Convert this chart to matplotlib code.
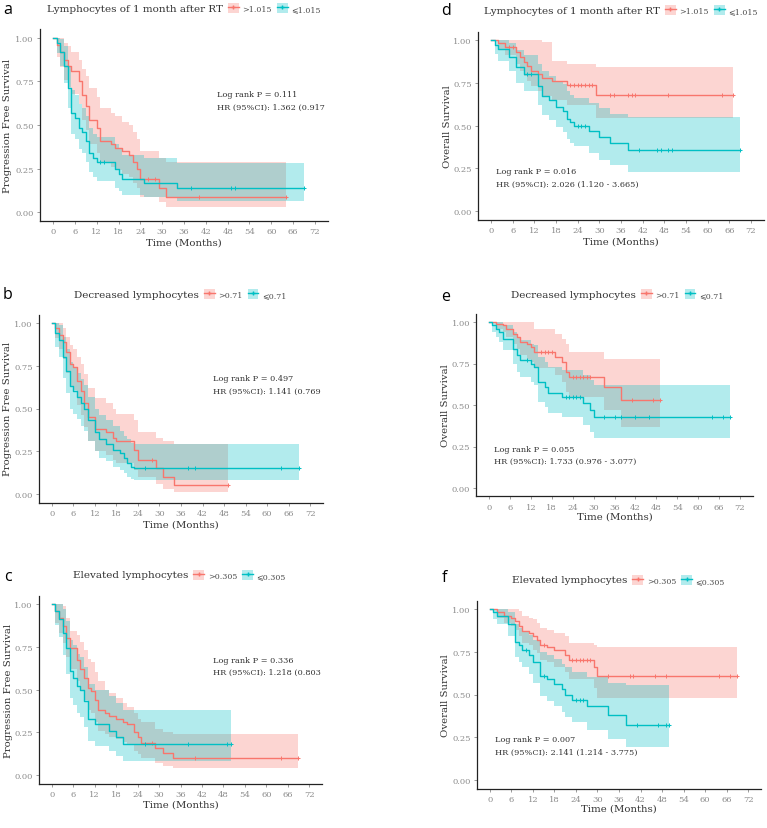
import matplotlib
matplotlib.use("Agg")
import matplotlib.pyplot as plt
from matplotlib.lines import Line2D
from matplotlib.patches import Patch
import numpy as np

# ---- Kaplan-Meier estimates (months, survival, 95% CI) ----
# a: PFS, lymphocytes 1 month after RT
a_hi_t = [0, 1, 2, 3, 4, 5, 7, 8, 9, 10, 12, 13, 16, 17, 19, 21, 22, 23, 24, 29, 31]
a_hi_s = [1.0, 0.96, 0.92, 0.87, 0.84, 0.81, 0.75, 0.67, 0.61, 0.53, 0.48, 0.41, 0.39, 0.37, 0.35, 0.33, 0.29, 0.25, 0.19, 0.14, 0.09]
a_hi_up = [1.0, 1.0, 1.0, 0.97, 0.95, 0.92, 0.87, 0.82, 0.78, 0.71, 0.66, 0.60, 0.57, 0.55, 0.52, 0.50, 0.46, 0.42, 0.35, 0.31, 0.29]
a_hi_lo = [1.0, 0.89, 0.83, 0.76, 0.72, 0.68, 0.62, 0.53, 0.47, 0.39, 0.34, 0.28, 0.26, 0.24, 0.22, 0.20, 0.17, 0.14, 0.09, 0.06, 0.03]
a_hi_c = [26, 28, 40, 64]
a_lo_t = [0, 1, 2, 3, 4, 5, 6, 7, 8, 9, 10, 11, 12, 17, 18, 19, 25, 34]
a_lo_s = [1.0, 0.97, 0.92, 0.84, 0.71, 0.57, 0.54, 0.48, 0.46, 0.41, 0.34, 0.31, 0.29, 0.25, 0.22, 0.19, 0.165, 0.14]
a_lo_up = [1.0, 1.0, 0.99, 0.95, 0.84, 0.70, 0.67, 0.62, 0.60, 0.55, 0.48, 0.45, 0.43, 0.39, 0.36, 0.33, 0.31, 0.285]
a_lo_lo = [1.0, 0.91, 0.84, 0.74, 0.60, 0.45, 0.42, 0.36, 0.34, 0.29, 0.23, 0.20, 0.18, 0.14, 0.12, 0.10, 0.085, 0.065]
a_lo_c = [13, 14, 38, 49, 50, 69]

# b: PFS, decreased lymphocytes
b_hi_t = [0, 1, 2, 3, 4, 5, 6, 7, 8, 9, 10, 12, 15, 17, 18, 23, 24, 29, 31, 34]
b_hi_s = [1.0, 0.97, 0.93, 0.89, 0.83, 0.76, 0.74, 0.66, 0.60, 0.53, 0.45, 0.38, 0.36, 0.33, 0.31, 0.26, 0.20, 0.15, 0.10, 0.05]
b_hi_up = [1.0, 1.0, 1.0, 0.97, 0.92, 0.87, 0.85, 0.80, 0.76, 0.70, 0.62, 0.56, 0.53, 0.50, 0.47, 0.43, 0.36, 0.33, 0.31, 0.29]
b_hi_lo = [1.0, 0.91, 0.85, 0.79, 0.71, 0.63, 0.61, 0.52, 0.46, 0.39, 0.31, 0.25, 0.23, 0.20, 0.18, 0.14, 0.10, 0.06, 0.03, 0.01]
b_hi_c = [28, 49]
b_lo_t = [0, 1, 2, 3, 4, 5, 6, 7, 8, 9, 10, 12, 13, 15, 17, 19, 20, 21, 22, 23]
b_lo_s = [1.0, 0.94, 0.90, 0.80, 0.72, 0.63, 0.60, 0.57, 0.53, 0.50, 0.43, 0.36, 0.32, 0.29, 0.26, 0.24, 0.21, 0.18, 0.16, 0.15]
b_lo_up = [1.0, 1.0, 0.99, 0.92, 0.85, 0.77, 0.74, 0.71, 0.67, 0.64, 0.57, 0.50, 0.46, 0.43, 0.40, 0.37, 0.34, 0.32, 0.30, 0.29]
b_lo_lo = [1.0, 0.86, 0.80, 0.68, 0.59, 0.50, 0.47, 0.44, 0.40, 0.37, 0.31, 0.25, 0.21, 0.19, 0.16, 0.14, 0.12, 0.10, 0.09, 0.08]
b_lo_c = [26, 38, 40, 64, 69]

# c: PFS, elevated lymphocytes
c_hi_t = [0, 1, 2, 3, 4, 5, 7, 8, 9, 10, 11, 12, 13, 15, 16, 18, 20, 21, 23, 24, 25, 29, 31, 34]
c_hi_s = [1.0, 0.96, 0.92, 0.87, 0.80, 0.74, 0.67, 0.62, 0.57, 0.51, 0.49, 0.44, 0.38, 0.365, 0.345, 0.33, 0.31, 0.30, 0.25, 0.22, 0.185, 0.155, 0.13, 0.10]
c_hi_up = [1.0, 1.0, 1.0, 0.99, 0.92, 0.84, 0.82, 0.78, 0.73, 0.68, 0.66, 0.60, 0.55, 0.50, 0.48, 0.45, 0.42, 0.40, 0.36, 0.33, 0.31, 0.27, 0.25, 0.24]
c_hi_lo = [1.0, 0.89, 0.83, 0.77, 0.69, 0.62, 0.55, 0.49, 0.44, 0.38, 0.36, 0.31, 0.26, 0.24, 0.22, 0.21, 0.19, 0.18, 0.14, 0.12, 0.10, 0.07, 0.055, 0.04]
c_hi_c = [28, 40, 64, 69]
c_lo_t = [0, 1, 2, 3, 4, 5, 6, 7, 8, 9, 10, 12, 16, 18, 20]
c_lo_s = [1.0, 0.96, 0.91, 0.83, 0.74, 0.61, 0.57, 0.52, 0.50, 0.43, 0.33, 0.30, 0.26, 0.22, 0.18]
c_lo_up = [1.0, 1.0, 1.0, 0.97, 0.90, 0.79, 0.76, 0.71, 0.69, 0.63, 0.53, 0.50, 0.46, 0.42, 0.38]
c_lo_lo = [1.0, 0.88, 0.81, 0.70, 0.59, 0.45, 0.41, 0.36, 0.34, 0.28, 0.20, 0.17, 0.14, 0.11, 0.08]
c_lo_c = [26, 38, 49, 50]

# d: OS, lymphocytes 1 month after RT
d_hi_t = [0, 2, 4, 7, 8, 9, 10, 11, 13, 14, 17, 21, 29]
d_hi_s = [1.0, 0.98, 0.96, 0.93, 0.90, 0.87, 0.85, 0.82, 0.80, 0.78, 0.76, 0.735, 0.68]
d_hi_up = [1.0, 1.0, 1.0, 1.0, 1.0, 1.0, 1.0, 1.0, 1.0, 0.99, 0.88, 0.86, 0.845]
d_hi_lo = [1.0, 0.94, 0.91, 0.86, 0.82, 0.79, 0.76, 0.73, 0.70, 0.67, 0.65, 0.62, 0.545]
d_hi_c = [5, 6, 22, 23, 24, 25, 26, 27, 28, 33, 34, 38, 39, 40, 49, 64, 67]
d_lo_t = [0, 1, 2, 5, 7, 9, 13, 14, 16, 18, 20, 21, 22, 23, 27, 30, 33, 38]
d_lo_s = [1.0, 0.97, 0.95, 0.90, 0.84, 0.80, 0.73, 0.675, 0.65, 0.61, 0.585, 0.54, 0.52, 0.50, 0.465, 0.43, 0.395, 0.355]
d_lo_up = [1.0, 1.0, 1.0, 0.98, 0.94, 0.91, 0.86, 0.82, 0.79, 0.76, 0.74, 0.70, 0.68, 0.66, 0.63, 0.60, 0.57, 0.55]
d_lo_lo = [1.0, 0.92, 0.88, 0.82, 0.75, 0.70, 0.62, 0.56, 0.53, 0.49, 0.46, 0.42, 0.40, 0.38, 0.34, 0.30, 0.27, 0.23]
d_lo_c = [10, 11, 24, 25, 26, 41, 46, 47, 49, 50, 69]

# e: OS, decreased lymphocytes
e_hi_t = [0, 2, 4, 5, 7, 8, 9, 11, 12, 13, 19, 21, 22, 23, 33, 38]
e_hi_s = [1.0, 0.99, 0.98, 0.96, 0.93, 0.91, 0.88, 0.87, 0.85, 0.82, 0.79, 0.76, 0.70, 0.67, 0.61, 0.53]
e_hi_up = [1.0, 1.0, 1.0, 1.0, 1.0, 1.0, 1.0, 1.0, 1.0, 0.96, 0.93, 0.90, 0.87, 0.82, 0.78, 0.78]
e_hi_lo = [1.0, 0.96, 0.94, 0.91, 0.87, 0.84, 0.80, 0.78, 0.76, 0.72, 0.68, 0.64, 0.58, 0.55, 0.47, 0.37]
e_hi_c = [15, 16, 17, 18, 24, 25, 26, 27, 28, 29, 41, 47, 49]
e_lo_t = [0, 1, 2, 3, 4, 7, 8, 9, 12, 13, 14, 16, 17, 21, 27, 29, 30]
e_lo_s = [1.0, 0.98, 0.96, 0.94, 0.90, 0.84, 0.80, 0.77, 0.75, 0.73, 0.64, 0.61, 0.57, 0.55, 0.51, 0.47, 0.43]
e_lo_up = [1.0, 1.0, 1.0, 1.0, 0.98, 0.94, 0.91, 0.89, 0.87, 0.86, 0.79, 0.76, 0.73, 0.71, 0.68, 0.65, 0.62]
e_lo_lo = [1.0, 0.94, 0.91, 0.88, 0.83, 0.75, 0.70, 0.67, 0.64, 0.62, 0.52, 0.49, 0.45, 0.43, 0.38, 0.34, 0.30]
e_lo_c = [11, 22, 23, 24, 25, 26, 33, 36, 38, 42, 46, 64, 67, 69]

# f: OS, elevated lymphocytes
f_hi_t = [0, 2, 4, 6, 7, 8, 9, 11, 12, 13, 14, 16, 18, 21, 22, 29, 30]
f_hi_s = [1.0, 0.98, 0.96, 0.95, 0.93, 0.90, 0.87, 0.86, 0.84, 0.82, 0.79, 0.78, 0.76, 0.73, 0.70, 0.66, 0.61]
f_hi_up = [1.0, 1.0, 1.0, 1.0, 1.0, 0.99, 0.96, 0.95, 0.94, 0.92, 0.89, 0.88, 0.86, 0.84, 0.80, 0.79, 0.78]
f_hi_lo = [1.0, 0.95, 0.92, 0.90, 0.88, 0.84, 0.80, 0.79, 0.76, 0.74, 0.70, 0.69, 0.66, 0.63, 0.59, 0.54, 0.48]
f_hi_c = [15, 23, 24, 25, 26, 27, 28, 33, 39, 40, 46, 49, 64, 67, 69]
f_lo_t = [0, 1, 2, 5, 7, 8, 9, 11, 12, 14, 16, 18, 20, 21, 23, 27, 33, 38]
f_lo_s = [1.0, 0.98, 0.96, 0.91, 0.81, 0.79, 0.76, 0.73, 0.69, 0.61, 0.59, 0.56, 0.53, 0.50, 0.47, 0.43, 0.38, 0.32]
f_lo_up = [1.0, 1.0, 1.0, 0.98, 0.91, 0.89, 0.87, 0.85, 0.82, 0.75, 0.73, 0.71, 0.68, 0.66, 0.63, 0.60, 0.57, 0.555]
f_lo_lo = [1.0, 0.94, 0.91, 0.84, 0.72, 0.69, 0.66, 0.62, 0.57, 0.49, 0.46, 0.43, 0.40, 0.37, 0.34, 0.29, 0.24, 0.19]
f_lo_c = [10, 15, 24, 25, 26, 41, 47, 49, 50]

# follow-up end of each curve (high group, low group)
ends = {"a": (64, 69), "b": (49, 69), "c": (69, 50), "d": (67, 69), "e": (49, 69), "f": (69, 50)}

titles = {
    "a": "Lymphocytes of 1 month after RT", "d": "Lymphocytes of 1 month after RT",
    "b": "Decreased lymphocytes", "e": "Decreased lymphocytes",
    "c": "Elevated lymphocytes", "f": "Elevated lymphocytes",
}
cutoffs = {"a": "1.015", "d": "1.015", "b": "0.71", "e": "0.71", "c": "0.305", "f": "0.305"}
stats = {
    "a": ["Log rank P = 0.111", "HR (95%CI): 1.362 (0.917"],
    "b": ["Log rank P = 0.497", "HR (95%CI): 1.141 (0.769"],
    "c": ["Log rank P = 0.336", "HR (95%CI): 1.218 (0.803"],
    "d": ["Log rank P = 0.016", "HR (95%CI): 2.026 (1.120 - 3.665)"],
    "e": ["Log rank P = 0.055", "HR (95%CI): 1.733 (0.976 - 3.077)"],
    "f": ["Log rank P = 0.007", "HR (95%CI): 2.141 (1.214 - 3.775)"],
}
x_ticks = list(range(0, 73, 6))
y_ticks = [0, 0.25, 0.5, 0.75, 1.0]
y_ticklabels = ["0.00", "0.25", "0.50", "0.75", "1.00"]

W, H = 767, 829
RED, CYAN = "#F8766D", "#00BFC4"
plt.rcParams["font.family"] = ["DejaVu Serif", "DejaVu Sans"]

fig = plt.figure(figsize=(W / 100, H / 100), dpi=100)


def px_axes(l, t, r, b):
    return fig.add_axes([l / W, 1 - b / H, (r - l) / W, (b - t) / H])


def km_curve(ax, t, s, lo, up, cens, end, color):
    tt = list(t) + [end]
    ax.fill_between(tt, list(lo) + [lo[-1]], list(up) + [up[-1]], step="post",
                    color=color, alpha=0.3, lw=0)
    ax.step(tt, list(s) + [s[-1]], where="post", color=color, lw=1.0)
    idx = np.searchsorted(t, cens, side="right") - 1
    ax.plot(cens, np.asarray(s)[idx], ls="none", marker="+", color=color, ms=3.5, mew=0.7)


# layout in pixels: axes box (l, t, r, b), title start, letter centre, ylabel x, xlabel y, stats position
layout = {
    "a": dict(box=(40, 30, 328, 222), title=(47, 9), letter=(8, 10), ylx=8, xly=243, st=(45, 0.676)),
    "b": dict(box=(39, 315.5, 323, 503.5), title=(74, 295), letter=(8, 295), ylx=8, xly=525, st=(45, 0.678)),
    "c": dict(box=(39, 596.5, 322, 784.5), title=(73, 576), letter=(8, 577), ylx=8, xly=805, st=(45, 0.674)),
    "d": dict(box=(478, 32.5, 764, 220.5), title=(484, 11), letter=(446, 11), ylx=447, xly=242, st=(1.4, 0.233)),
    "e": dict(box=(476.4, 314.7, 752.6, 497.3), title=(511, 295), letter=(446, 297), ylx=446, xly=517, st=(1.4, 0.237)),
    "f": dict(box=(477, 601.5, 761, 789.5), title=(512, 581), letter=(444, 578), ylx=446, xly=809, st=(1.4, 0.238)),
}
curves = {
    "a": ((a_hi_t, a_hi_s, a_hi_lo, a_hi_up, a_hi_c), (a_lo_t, a_lo_s, a_lo_lo, a_lo_up, a_lo_c)),
    "b": ((b_hi_t, b_hi_s, b_hi_lo, b_hi_up, b_hi_c), (b_lo_t, b_lo_s, b_lo_lo, b_lo_up, b_lo_c)),
    "c": ((c_hi_t, c_hi_s, c_hi_lo, c_hi_up, c_hi_c), (c_lo_t, c_lo_s, c_lo_lo, c_lo_up, c_lo_c)),
    "d": ((d_hi_t, d_hi_s, d_hi_lo, d_hi_up, d_hi_c), (d_lo_t, d_lo_s, d_lo_lo, d_lo_up, d_lo_c)),
    "e": ((e_hi_t, e_hi_s, e_hi_lo, e_hi_up, e_hi_c), (e_lo_t, e_lo_s, e_lo_lo, e_lo_up, e_lo_c)),
    "f": ((f_hi_t, f_hi_s, f_hi_lo, f_hi_up, f_hi_c), (f_lo_t, f_lo_s, f_lo_lo, f_lo_up, f_lo_c)),
}

title_texts = {}
for key, lay in layout.items():
    l, t, r, b = lay["box"]
    ax = px_axes(l, t, r, b)
    hi, lo = curves[key]
    km_curve(ax, *hi, ends[key][0], RED)
    km_curve(ax, *lo, ends[key][1], CYAN)
    ax.set_xlim(-3.6, 75.6)
    ax.set_ylim(-0.05, 1.05)
    ax.set_xticks(x_ticks)
    ax.set_yticks(y_ticks)
    ax.set_yticklabels(y_ticklabels)
    for sp in ("top", "right"):
        ax.spines[sp].set_visible(False)
    for sp in ("left", "bottom"):
        ax.spines[sp].set_linewidth(0.9)
        ax.spines[sp].set_color("#222222")
    ax.tick_params(colors="#8c8c8c", labelsize=6, length=2.5, width=0.6, pad=2)

    ylab = "Overall Survival" if key in "def" else "Progression Free Survival"
    ax.set_ylabel(ylab, fontsize=7.3, color="#333333")
    ax.yaxis.set_label_coords((lay["ylx"] - l) / (r - l), 0.5)
    ax.yaxis.label.set_va("center")
    ax.set_xlabel("Time (Months)", fontsize=7.3, color="#333333")
    ax.xaxis.set_label_coords(0.5, (b - lay["xly"]) / (b - t))
    ax.xaxis.label.set_va("center")

    sx, sy = lay["st"]
    for i, line in enumerate(stats[key]):
        ax.text(sx, sy - i * 0.072, line, fontsize=5.9, color="#333333", va="center",
                ha="left", clip_on=True)

    tx, ty = lay["title"]
    title_texts[key] = fig.text(tx / W, 1 - ty / H, titles[key], fontsize=7.45,
                                color="#333333", ha="left", va="center")
    lx, lyy = lay["letter"]
    fig.text(lx / W, 1 - lyy / H, key, fontsize=11.5, family="Open Sans",
             ha="center", va="center", color="black")

fig.canvas.draw()
renderer = fig.canvas.get_renderer()
for key, txt in title_texts.items():
    bb = txt.get_window_extent(renderer)
    handles = [(Patch(facecolor=RED, alpha=0.3, lw=0), Line2D([], [], color=RED, lw=1.0, marker="+", ms=3.5)),
               (Patch(facecolor=CYAN, alpha=0.3, lw=0), Line2D([], [], color=CYAN, lw=1.0, marker="+", ms=3.5))]
    labels = [">" + cutoffs[key], "\u2a7d" + cutoffs[key]]
    fig.legend(handles, labels, loc="center left",
               bbox_to_anchor=((bb.x1 + 5) / W, (bb.y0 + bb.y1) / 2 / H),
               ncol=2, frameon=False, fontsize=5.8, labelcolor="#4d4d4d",
               handlelength=1.35, handleheight=1.6, handletextpad=0.45, columnspacing=0.6,
               borderpad=0, borderaxespad=0)

fig.savefig("out.png", dpi=100)
